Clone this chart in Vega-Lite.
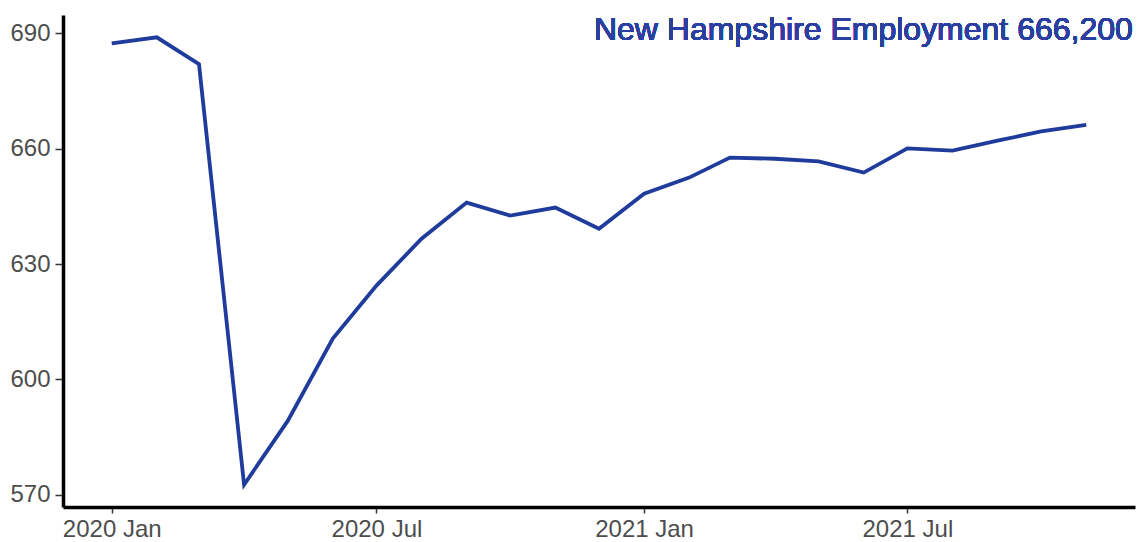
{
  "$schema": "https://vega.github.io/schema/vega-lite/v6.json",
  "width": 1072,
  "height": 492,
  "autosize": "none",
  "padding": {"left": 63, "top": 15, "right": 4, "bottom": 35},
  "background": "white",
  "config": {
    "view": {"stroke": null},
    "font": "Liberation Sans",
    "axis": {
      "title": null,
      "grid": false,
      "domainColor": "#000000",
      "domainWidth": 3.5,
      "tickColor": "#333333",
      "tickWidth": 1.5,
      "tickSize": 7,
      "labelFontSize": 24,
      "labelColor": "#4d4d4d",
      "labelPadding": 4,
      "labelFlush": false,
      "labelOverlap": false
    }
  },
  "data": {
    "values": [
      {"date": "2020-01-01", "emp": 687.4},
      {"date": "2020-02-01", "emp": 689.0},
      {"date": "2020-03-01", "emp": 682.0},
      {"date": "2020-04-01", "emp": 572.6},
      {"date": "2020-05-01", "emp": 589.2},
      {"date": "2020-06-01", "emp": 610.6},
      {"date": "2020-07-01", "emp": 624.4},
      {"date": "2020-08-01", "emp": 636.6},
      {"date": "2020-09-01", "emp": 646.0},
      {"date": "2020-10-01", "emp": 642.6},
      {"date": "2020-11-01", "emp": 644.7},
      {"date": "2020-12-01", "emp": 639.2},
      {"date": "2021-01-01", "emp": 648.3},
      {"date": "2021-02-01", "emp": 652.5},
      {"date": "2021-03-01", "emp": 657.7},
      {"date": "2021-04-01", "emp": 657.4},
      {"date": "2021-05-01", "emp": 656.7},
      {"date": "2021-06-01", "emp": 653.8},
      {"date": "2021-07-01", "emp": 660.1},
      {"date": "2021-08-01", "emp": 659.5},
      {"date": "2021-09-01", "emp": 662.1},
      {"date": "2021-10-01", "emp": 664.5},
      {"date": "2021-11-01", "emp": 666.2}
    ]
  },
  "encoding": {
    "x": {
      "field": "date",
      "type": "temporal",
      "scale": {
        "type": "utc",
        "domain": [
          {"year": 2019, "month": 11, "date": 28, "hours": 12, "utc": true},
          {"year": 2021, "month": 12, "date": 4, "hours": 12, "utc": true}
        ]
      },
      "axis": {
        "values": [
          {"year": 2020, "month": 1, "date": 1, "utc": true},
          {"year": 2020, "month": 7, "date": 1, "utc": true},
          {"year": 2021, "month": 1, "date": 1, "utc": true},
          {"year": 2021, "month": 7, "date": 1, "utc": true}
        ],
        "labelExpr": "utcFormat(datum.value, '%Y %b')",
        "tickSize": 6,
        "labelPadding": 4
      }
    },
    "y": {
      "field": "emp",
      "type": "quantitative",
      "scale": {"domain": [566.8, 694.8], "nice": false, "zero": false},
      "axis": {"values": [570, 600, 630, 660, 690], "tickSize": 8, "labelPadding": 5}
    }
  },
  "layer": [
    {
      "mark": {"type": "line", "color": "#1f3b9c", "strokeWidth": 3.8}
    },
    {
      "mark": {"type": "text", "align": "right", "baseline": "alphabetic", "fontSize": 32, "color": "#2a3f9f", "text": "New Hampshire Employment 666,200"},
      "encoding": {
        "x": {"datum": {"year": 2021, "month": 12, "date": 3, "utc": true}, "type": "temporal"},
        "y": {"datum": 688.2, "type": "quantitative"}
      }
    }
  ]
}
